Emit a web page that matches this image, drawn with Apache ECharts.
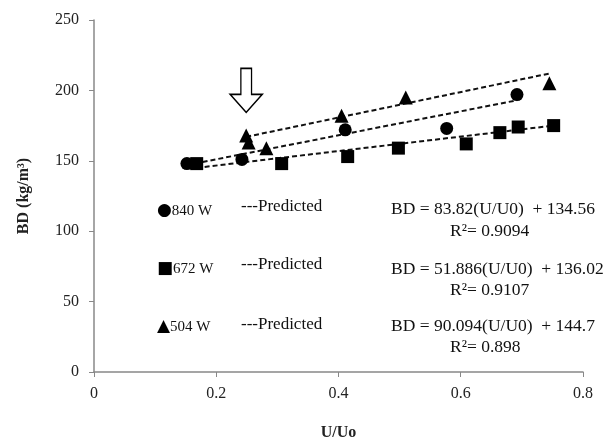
<!DOCTYPE html>
<html>
<head>
<meta charset="utf-8">
<script src="https://cdn.jsdelivr.net/npm/echarts@6/dist/echarts.min.js"></script>
<style>
  html, body { margin: 0; padding: 0; background: #fff; }
  #chart { width: 608px; height: 439px; }
</style>
</head>
<body>
<div id="chart"></div>
<script>
// measured points (U/Uo, BD)
var p840 = [[0.152, 148], [0.242, 151], [0.411, 172], [0.577, 173], [0.692, 197]];
var p672 = [[0.168, 148], [0.307, 148], [0.415, 153], [0.498, 159], [0.609, 162], [0.664, 170], [0.694, 174], [0.752, 175]];
var p504 = [[0.249, 168], [0.253, 163], [0.282, 159], [0.405, 182], [0.510, 195], [0.745, 205]];

// predicted (trend) line end points
var t840 = [[0.152, 147], [0.692, 193]];
var t672 = [[0.168, 145], [0.752, 175]];
var t504 = [[0.249, 167], [0.745, 212]];

// arrow annotation position
var arrowAt = [[0.249, 200]];

var legendRows = ['840 W', '672 W', '504 W'];
var legendMarks = ['\u25CF', '\u25A0', '\u25B2'];
var equations = ['BD = 83.82(U/U0)  + 134.56', 'BD = 51.886(U/U0)  + 136.02', 'BD = 90.094(U/U0)  + 144.7'];
var rSquared = ['R\u00B2= 0.9094', 'R\u00B2= 0.9107', 'R\u00B2= 0.898'];

var serif = '"Liberation Serif", "DejaVu Serif", serif';

function scatter(data, symbol, size) {
    return {
        type: 'scatter',
        data: data,
        symbol: symbol,
        symbolSize: size,
        itemStyle: { color: '#000', opacity: 1 },
        z: 3
    };
}

function trend(data) {
    return {
        type: 'line',
        data: data,
        showSymbol: false,
        symbol: 'none',
        lineStyle: { color: '#111', width: 2, type: [5, 3] },
        z: 2
    };
}

// text rows inside the plot (vertical centres)
var markY = [211, 269, 327];
var predY = [207, 265, 325];
var eqY = [209, 269, 326];
var rY = [231, 290, 347];
var graphics = [];
for (var i = 0; i < legendRows.length; i++) {
    graphics.push({
        type: 'text', x: 157, y: markY[i],
        style: {
            text: '{m|' + legendMarks[i] + '}{t|' + legendRows[i] + '}',
            verticalAlign: 'middle',
            rich: {
                m: { fontSize: 17, fontFamily: 'DejaVu Sans', fill: '#000' },
                t: { fontSize: 15, fontFamily: serif, fill: '#111' }
            }
        }
    });
    graphics.push({
        type: 'text', x: 241, y: predY[i],
        style: { text: '---Predicted', verticalAlign: 'middle', fontSize: 17, fontFamily: serif, fill: '#111' }
    });
    graphics.push({
        type: 'text', x: 391, y: eqY[i],
        style: { text: equations[i], verticalAlign: 'middle', fontSize: 17.5, fontFamily: serif, fill: '#111' }
    });
    graphics.push({
        type: 'text', x: 450, y: rY[i],
        style: { text: rSquared[i], verticalAlign: 'middle', fontSize: 17.5, fontFamily: serif, fill: '#111' }
    });
}

var option = {
    backgroundColor: '#fff',
    animation: false,
    grid: { left: 94, right: 25, top: 20, bottom: 67, outerBoundsMode: 'none', containLabel: false },
    xAxis: {
        type: 'value',
        min: 0, max: 0.8, interval: 0.2,
        name: 'U/Uo',
        nameLocation: 'middle',
        nameGap: 53,
        nameTextStyle: { fontFamily: serif, fontWeight: 'bold', fontSize: 16, color: '#222' },
        axisLine: { lineStyle: { color: '#888', width: 1.5 } },
        axisTick: { show: true, length: 5, lineStyle: { color: '#888' } },
        axisLabel: { fontFamily: serif, fontSize: 16, color: '#222', margin: 14 },
        splitLine: { show: false }
    },
    yAxis: {
        type: 'value',
        min: 0, max: 250, interval: 50,
        name: 'BD (kg/m\u00B3)',
        nameLocation: 'middle',
        nameRotate: 90,
        nameGap: 62,
        nameTextStyle: { fontFamily: serif, fontWeight: 'bold', fontSize: 16, color: '#222' },
        axisLine: { show: true, lineStyle: { color: '#888', width: 1.5 } },
        axisTick: { show: true, length: 5, lineStyle: { color: '#888' } },
        axisLabel: { fontFamily: serif, fontSize: 16, color: '#222', margin: 15 },
        splitLine: { show: false }
    },
    series: [
        trend(t840),
        trend(t672),
        trend(t504),
        scatter(p840, 'circle', 13),
        scatter(p672, 'rect', 13),
        scatter(p504, 'triangle', 14),
        {
            type: 'scatter',
            data: arrowAt,
            symbol: 'path://M8,0 L16,0 L16,26 L24,26 L12,44 L0,26 L8,26 Z',
            symbolSize: [32, 44],
            itemStyle: { color: '#fff', borderColor: '#000', borderWidth: 1.5, opacity: 1 },
            z: 4
        }
    ],
    graphic: graphics
};

var myChart = echarts.init(document.getElementById('chart'));
myChart.setOption(option);
</script>
</body>
</html>
